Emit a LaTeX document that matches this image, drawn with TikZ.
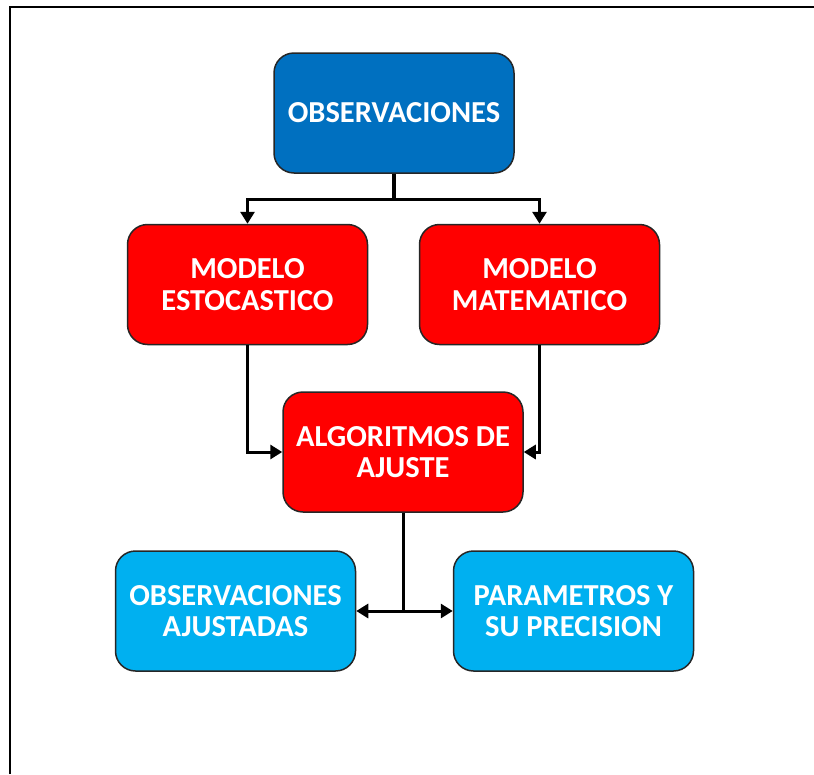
\documentclass[tikz,border=0pt]{standalone}
\usepackage{fontspec}
\setmainfont{Carlito}
\usetikzlibrary{arrows.meta}

\definecolor{azul}{HTML}{0070C0}
\definecolor{rojo}{HTML}{FF0000}
\definecolor{celeste}{HTML}{00B0F0}

\tikzset{
  caja/.style={rectangle, rounded corners=20pt, draw=black!85, line width=1.5pt,
    minimum width=240pt, minimum height=120pt, align=center, text=white,
    font=\fontsize{30.5}{31.5}\selectfont\bfseries},
  flecha/.style={line width=3pt, -{Triangle[length=12pt, width=14pt]}},
}

\begin{document}
\begin{tikzpicture}[x=1pt, y=-1pt]
            \useasboundingbox (0,0) rectangle (814,774);
            \draw[line width=2.6pt] (10,774) -- (10,7) -- (814,7);

            \node[caja, fill=azul] (obs) at (394,113) {OBSERVACIONES};
            \node[caja, fill=rojo] (est) at (247.5,284.5) {MODELO\\ESTOCASTICO};
            \node[caja, fill=rojo] (mat) at (539.5,284.5) {MODELO\\MATEMATICO};
            \node[caja, fill=rojo] (alg) at (403,452) {ALGORITMOS DE\\AJUSTE};
            \node[caja, fill=celeste] (oaj) at (235.5,611) {OBSERVACIONES\\AJUSTADAS};
            \node[caja, fill=celeste] (par) at (573.5,611) {PARAMETROS Y\\SU PRECISION};

            \coordinate (s1) at (394,199);
            \coordinate (s2) at (403,611);

            \draw[line width=3.6pt] (obs) -- (s1);
            \draw[flecha] (s1) -| (est);
            \draw[flecha] (s1) -| (mat);
            \draw[flecha] (est) |- (alg);
            \draw[flecha] (mat) |- (alg);
            \draw[line width=3pt] (alg) -- (s2);
            \draw[flecha] (s2) -- (oaj);
            \draw[flecha] (s2) -- (par);
            \end{tikzpicture}
\end{document}
